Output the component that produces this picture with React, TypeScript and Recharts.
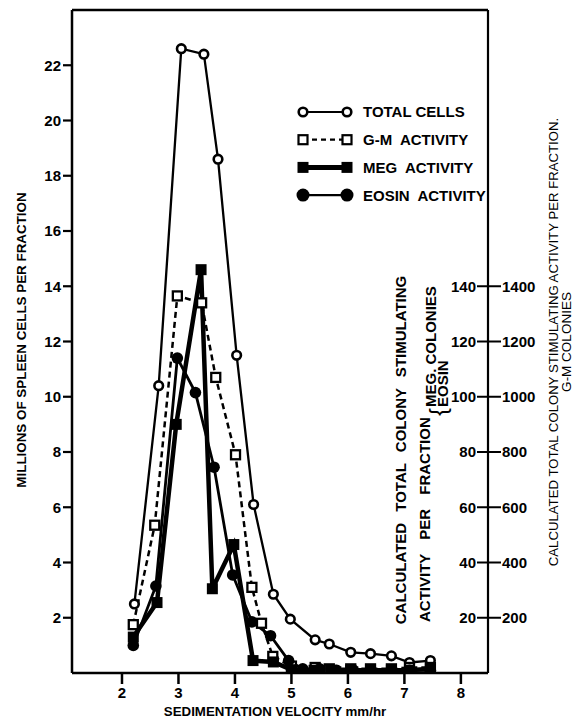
import { Legend, Line, LineChart, ReferenceLine, XAxis, YAxis } from "recharts";

const FONT = '"Liberation Sans", Arial, Helvetica, sans-serif';

// sedimentation velocity (mm/hr) of each fraction, per series
const totalX = [2.22, 2.65, 3.05, 3.45, 3.7, 4.03, 4.33, 4.68, 4.98, 5.42, 5.67, 6.05, 6.4, 6.77, 7.09, 7.46];
const totalCells = [2.5, 10.4, 22.6, 22.4, 18.6, 11.5, 6.1, 2.85, 1.95, 1.2, 1.05, 0.75, 0.7, 0.62, 0.38, 0.45];

const gmX = [2.2, 2.58, 2.98, 3.41, 3.66, 4.01, 4.3, 4.47, 4.67, 5.0, 5.42, 5.67, 6.05, 6.4, 6.77, 7.09, 7.46];
const gmColonies = [175, 535, 1365, 1340, 1070, 790, 310, 180, 60, 25, 20, 15, 15, 15, 15, 20, 20];

const megX = [2.2, 2.62, 2.96, 3.4, 3.6, 3.98, 4.32, 4.68, 5.0, 5.4, 5.7, 6.05, 6.4, 6.77, 7.09, 7.46];
const megColonies = [13, 25.5, 90, 146, 30.5, 46.5, 4.5, 4, 1.2, 1, 1, 1, 1, 1, 1, 1.5];

const eosinX = [2.2, 2.6, 2.98, 3.3, 3.63, 3.96, 4.3, 4.63, 4.95, 5.2, 5.5, 5.8, 6.1, 6.4, 6.77, 7.09, 7.46];
const eosinColonies = [10, 31.5, 114, 101.5, 74.5, 35.5, 18.5, 13.5, 4.5, 1.5, 1.5, 1, 1, 1, 1, 1, 1];

const xTicks = [2, 3, 4, 5, 6, 7, 8];
const leftTicks = [2, 4, 6, 8, 10, 12, 14, 16, 18, 20, 22];
const rightTicks = [20, 40, 60, 80, 100, 120, 140];

const zip = (xs: number[], ys: number[]) => xs.map((x, i) => ({ x, y: ys[i] }));

const tickStyle = { fill: "#000", fontSize: 15, fontWeight: 700, fontFamily: FONT };

const OpenCircle = (p: any) => (
  <circle key={p.index} cx={p.cx} cy={p.cy} r={4.3} fill="#fff" stroke="#000" strokeWidth={2.6} />
);
const OpenSquare = (p: any) => (
  <rect key={p.index} x={p.cx - 4.5} y={p.cy - 4.5} width={9} height={9} fill="#fff" stroke="#000" strokeWidth={2.3} />
);
const FilledSquare = (p: any) => (
  <rect key={p.index} x={p.cx - 5.5} y={p.cy - 5.5} width={11} height={11} fill="#000" />
);
const FilledCircle = (p: any) => <circle key={p.index} cx={p.cx} cy={p.cy} r={5.8} fill="#000" />;

const RightTick = ({ x, y, payload }: any) => (
  <g>
    <line x1={x - 11} x2={x + 13} y1={y} y2={y} stroke="#000" strokeWidth={2} />
    <text x={x - 12} y={y} dy="0.36em" textAnchor="end" {...tickStyle}>
      {payload.value}
    </text>
    <text x={x + 14} y={y} dy="0.36em" textAnchor="start" {...tickStyle}>
      {payload.value * 10}
    </text>
  </g>
);

const legendRows = [
  { label: "TOTAL CELLS", dash: undefined, width: 2, mark: "oc" },
  { label: "G-M  ACTIVITY", dash: "5 4", width: 2.2, mark: "os" },
  { label: "MEG  ACTIVITY", dash: undefined, width: 5, mark: "fs" },
  { label: "EOSIN  ACTIVITY", dash: undefined, width: 2.2, mark: "fc" },
];

function LegendBox() {
  return (
    <svg width={220} height={120}>
      {legendRows.map((r, i) => {
        const y = 17 + i * 27.7;
        const mark = (cx: number) =>
          r.mark === "oc" ? (
            <circle cx={cx} cy={y} r={4.3} fill="#fff" stroke="#000" strokeWidth={2.6} />
          ) : r.mark === "os" ? (
            <rect x={cx - 4.5} y={y - 4.5} width={9} height={9} fill="#fff" stroke="#000" strokeWidth={2.2} />
          ) : r.mark === "fs" ? (
            <rect x={cx - 5.5} y={y - 5.5} width={11} height={11} fill="#000" />
          ) : (
            <circle cx={cx} cy={y} r={6.5} fill="#000" />
          );
        return (
          <g key={r.label}>
            <line x1={13} x2={57} y1={y} y2={y} stroke="#000" strokeWidth={r.width} strokeDasharray={r.dash} />
            {mark(13)}
            {mark(57)}
            <text x={73} y={y} dy="0.36em" fontFamily={FONT} fontWeight={700} fontSize={15} style={{ whiteSpace: "pre" }}>
              {r.label}
            </text>
          </g>
        );
      })}
    </svg>
  );
}

export default function App() {
  const bold = { fontFamily: FONT, fontWeight: 700, fill: "#000" };
  return (
    <div style={{ position: "absolute", left: 0, top: 0, width: 577, height: 719, background: "#fff" }}>
      <LineChart width={577} height={719} margin={{ top: 10, right: 0, bottom: 16, left: 0 }}>
        <XAxis
          dataKey="x"
          type="number"
          domain={[1.115, 8.48]}
          ticks={xTicks}
          height={30}
          tickSize={11}
          tickMargin={3}
          tick={tickStyle}
          axisLine={{ stroke: "#000", strokeWidth: 2.5 }}
          tickLine={{ stroke: "#000", strokeWidth: 2.5 }}
          allowDataOverflow
        />
        <YAxis
          yAxisId="cells"
          orientation="left"
          width={72}
          domain={[0, 24]}
          ticks={leftTicks}
          tickSize={9}
          tickMargin={2}
          tick={tickStyle}
          axisLine={{ stroke: "#000", strokeWidth: 2.5 }}
          tickLine={{ stroke: "#000", strokeWidth: 2.2 }}
          allowDataOverflow
        />
        <YAxis
          yAxisId="act"
          orientation="right"
          width={89}
          domain={[0, 240]}
          ticks={rightTicks}
          tickSize={0}
          tickMargin={0}
          tickLine={false}
          tick={<RightTick />}
          axisLine={{ stroke: "#000", strokeWidth: 2.2 }}
          allowDataOverflow
        />
        <YAxis yAxisId="gm" hide domain={[0, 2400]} allowDataOverflow />
        <ReferenceLine yAxisId="cells" y={24} stroke="#000" strokeWidth={2.5} />
        <Line
          yAxisId="cells"
          data={zip(totalX, totalCells)}
          dataKey="y"
          type="linear"
          stroke="#000"
          strokeWidth={2.3}
          dot={OpenCircle}
          isAnimationActive={false}
        />
        <Line
          yAxisId="gm"
          data={zip(gmX, gmColonies)}
          dataKey="y"
          type="linear"
          stroke="#000"
          strokeWidth={2.5}
          strokeDasharray="6 4"
          dot={OpenSquare}
          isAnimationActive={false}
        />
        <Line
          yAxisId="act"
          data={zip(megX, megColonies)}
          dataKey="y"
          type="linear"
          stroke="#000"
          strokeWidth={4.5}
          dot={FilledSquare}
          isAnimationActive={false}
        />
        <Line
          yAxisId="act"
          data={zip(eosinX, eosinColonies)}
          dataKey="y"
          type="linear"
          stroke="#000"
          strokeWidth={2.8}
          dot={FilledCircle}
          isAnimationActive={false}
        />
        <Legend
          content={<LegendBox />}
          layout="vertical"
          align="center"
          verticalAlign="middle"
          wrapperStyle={{ position: "absolute", left: 290, top: 95, width: 220, height: 120 }}
        />
      </LineChart>
      <svg width={577} height={719} style={{ position: "absolute", left: 0, top: 0, pointerEvents: "none" }}>
        <text transform="translate(21,340) rotate(-90)" textAnchor="middle" dy="0.36em" fontSize={13.4} {...bold}>
          MILLIONS OF SPLEEN CELLS PER FRACTION
        </text>
        <text x={275} y={711} textAnchor="middle" dy="0.36em" fontSize={13.3} {...bold}>
          SEDIMENTATION VELOCITY mm/hr
        </text>
        <text transform="translate(401,450) rotate(-90)" textAnchor="middle" dy="0.36em" fontSize={15} wordSpacing={7} {...bold}>
          CALCULATED TOTAL COLONY STIMULATING
        </text>
        <text transform="translate(425,622) rotate(-90)" textAnchor="start" dy="0.36em" fontSize={15} wordSpacing={10} {...bold}>
          ACTIVITY PER FRACTION
        </text>
        <text transform="translate(437,412) rotate(-90)" textAnchor="middle" dy="0.36em" fontSize={24} fontFamily={FONT} fill="#000">
          {"{"}
        </text>
        <text transform="translate(431,407) rotate(-90)" textAnchor="start" dy="0.36em" fontSize={15} {...bold}>
          MEG. COLONIES
        </text>
        <text transform="translate(443,407) rotate(-90)" textAnchor="start" dy="0.36em" fontSize={15} {...bold}>
          EOSIN
        </text>
        <text transform="translate(553,342) rotate(-90)" textAnchor="middle" dy="0.36em" fontSize={13.2} fontFamily={FONT} fill="#000">
          CALCULATED TOTAL COLONY STIMULATING ACTIVITY PER FRACTION.
        </text>
        <text transform="translate(566,342) rotate(-90)" textAnchor="middle" dy="0.36em" fontSize={13.5} fontFamily={FONT} fill="#000">
          G-M COLONIES
        </text>
      </svg>
    </div>
  );
}
